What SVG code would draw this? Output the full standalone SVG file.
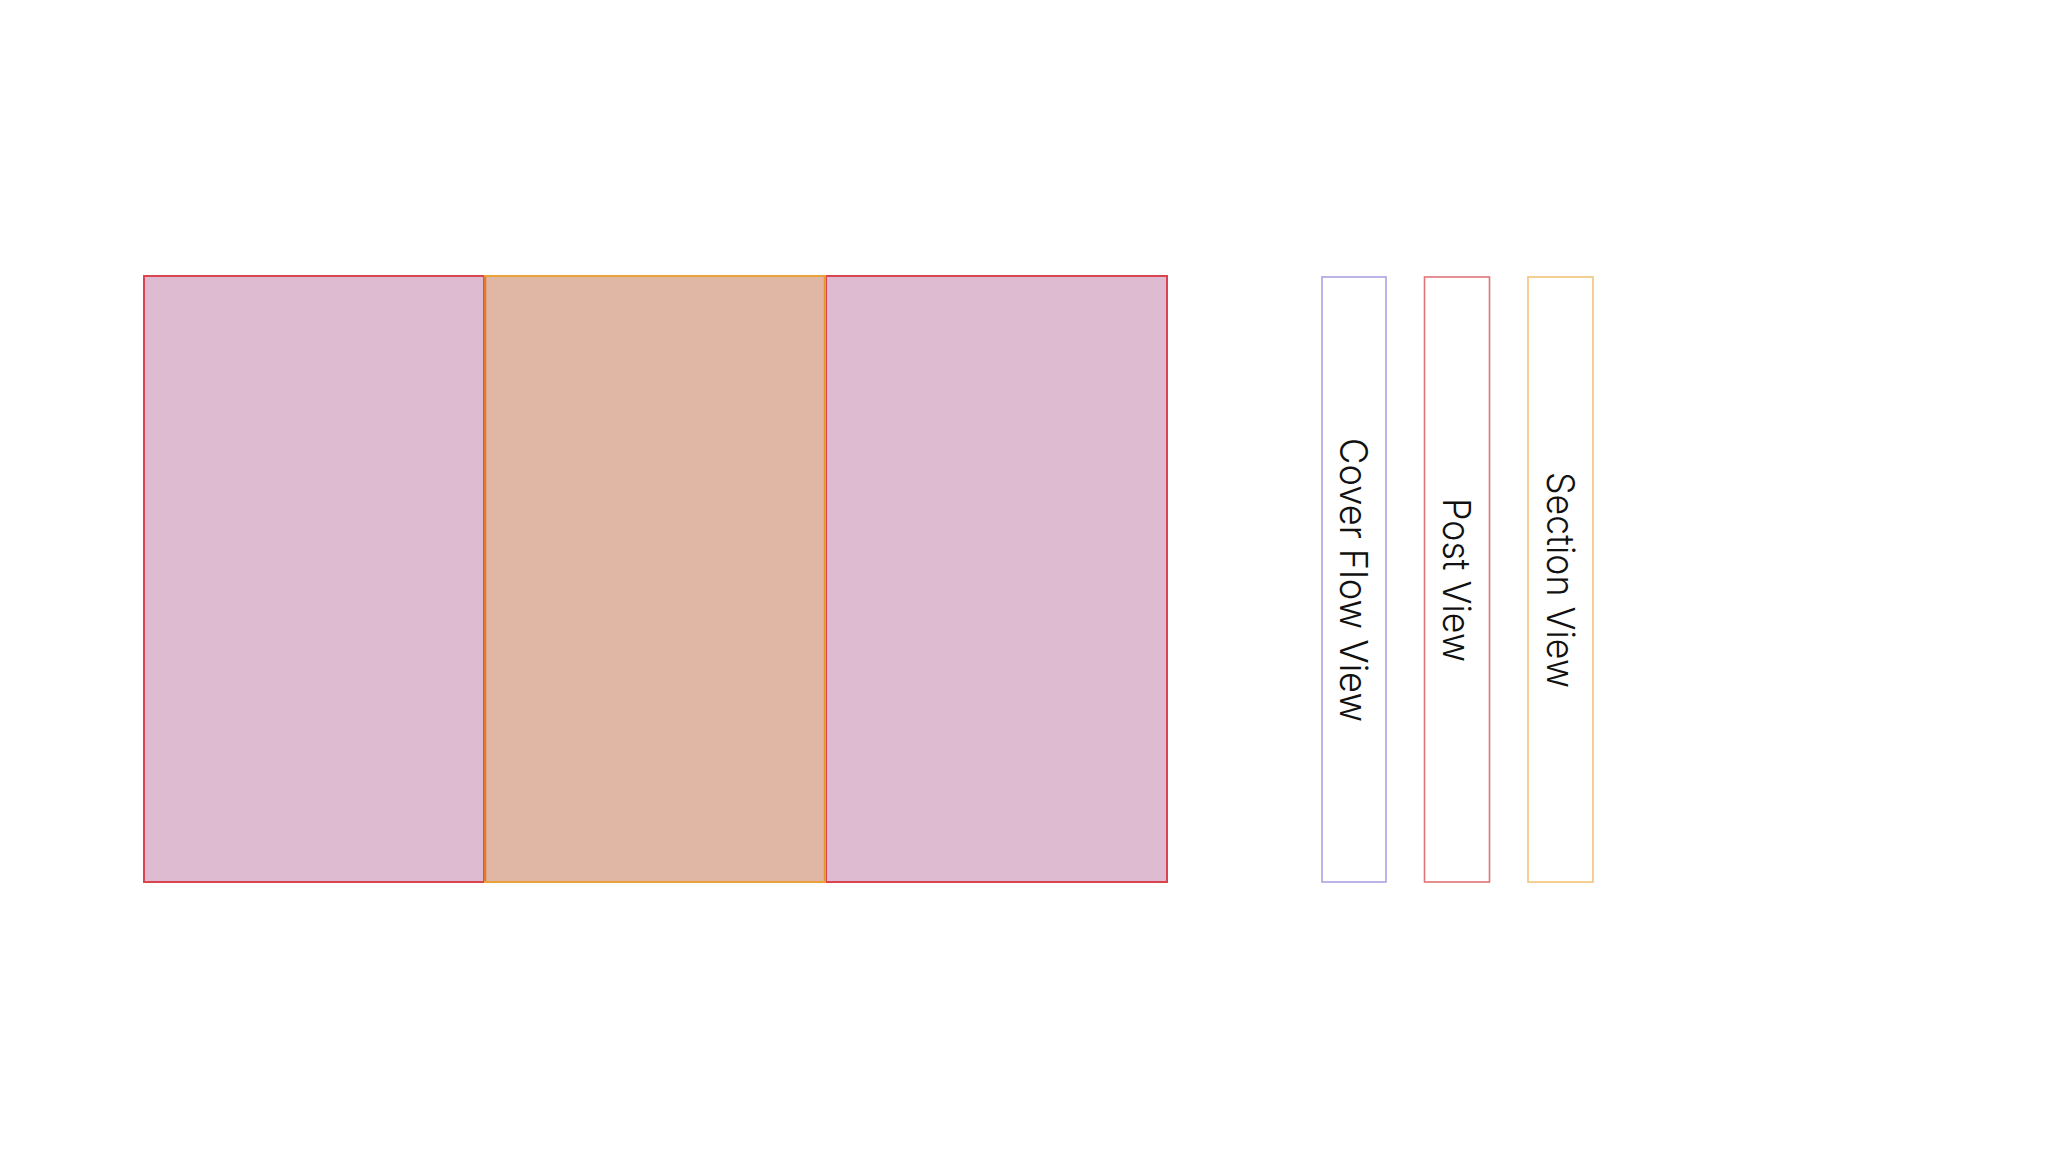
<svg xmlns="http://www.w3.org/2000/svg" width="2048" height="1152" viewBox="0 0 2048 1152">
<style>
.pink{fill:#dfbbd2;stroke:#d8444f;stroke-width:2}
.peach{fill:#e0b6a4;stroke:#e9a23a;stroke-width:2}
.side{fill:#ffffff;stroke-width:1.6}
.lbl{font-family:"Helvetica Neue",Inter,"Liberation Sans",sans-serif;font-weight:300;font-size:38px;fill:#111111;text-anchor:middle;dominant-baseline:central}
</style>
<rect width="2048" height="1152" fill="#ffffff"/>
<g id="panel-left"><rect class="pink" x="144" y="276" width="340" height="606"/></g>
<g id="panel-right"><rect class="pink" x="826" y="276" width="341" height="606"/></g>
<g id="panel-middle"><rect class="peach" x="485" y="276" width="340" height="606"/><line x1="485" y1="277" x2="485" y2="881" stroke="#e8782f" stroke-width="2.5"/><line x1="824.5" y1="277" x2="824.5" y2="881" stroke="#e9952f" stroke-width="1.5"/></g>
<g id="cover-flow-view">
<rect class="side" x="1322" y="277" width="64" height="605" stroke="#aaa3e3"/>
<text class="lbl" transform="translate(1354,580) rotate(90)" textLength="284" lengthAdjust="spacingAndGlyphs">Cover Flow View</text>
</g>
<g id="post-view">
<rect class="side" x="1424.5" y="277" width="65" height="605" stroke="#e07478"/>
<text class="lbl" transform="translate(1457,580) rotate(90)" textLength="164" lengthAdjust="spacingAndGlyphs">Post View</text>
</g>
<g id="section-view">
<rect class="side" x="1528" y="277" width="65" height="605" stroke="#f0c47a"/>
<text class="lbl" transform="translate(1560.5,580) rotate(90)" textLength="216" lengthAdjust="spacingAndGlyphs">Section View</text>
</g>
<g id="connectors"></g>
</svg>
